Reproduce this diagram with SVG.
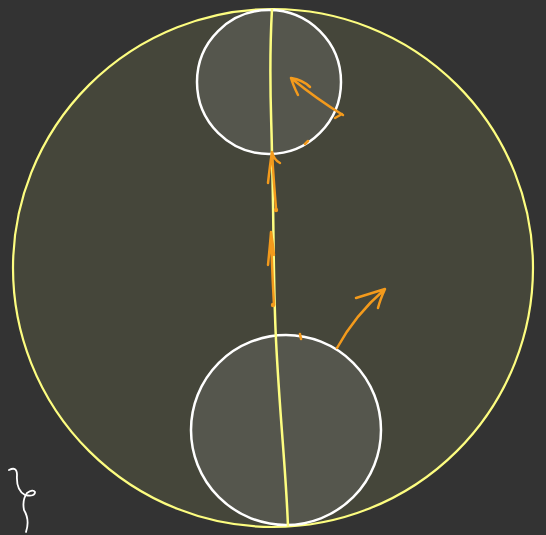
<svg xmlns="http://www.w3.org/2000/svg" width="546" height="535" viewBox="0 0 546 535">
<style>
.o{fill:none;stroke:#f39a1c;stroke-width:2.5;stroke-linecap:round;stroke-linejoin:round}
.w{fill:#55564d;stroke:#ffffff;stroke-width:2.5}
</style>
<rect width="546" height="535" fill="#333333"/>
<g id="outer"><ellipse cx="273" cy="268" rx="260" ry="259" fill="#45463a" stroke="#fdfd80" stroke-width="2.2"/></g>
<g id="top"><circle cx="269" cy="82" r="72" class="w"/></g>
<g id="bottom"><circle cx="286" cy="430" r="95" class="w"/></g>
<g id="connectors">
<path d="M272 9 C268 80 272 120 272 160 C274 220 273 280 276 340 C280 420 286 470 288 527" fill="none" stroke="#fdfd80" stroke-width="2.5"/>
<path class="o" d="M274 305 Q272 270 271 233 M268 265 Q270 245 271 232 Q273 245 274 255"/>
<path class="o" d="M276 208 Q274 185 272 153 M268 183 Q270 165 272 152 Q274 160 280 163"/>
<circle cx="276" cy="210" r="2.2" fill="#f39a1c"/>
<circle cx="273" cy="305" r="2.2" fill="#f39a1c"/>
<path class="o" d="M343 115 Q318 100 291 78 M298 95 Q293 85 291 78 Q303 80 310 87 M335 118 L342 114"/>
<path class="o" d="M337 348 Q355 315 385 289 M356 298 Q372 293 385 289 Q380 300 378 308"/>
<path class="o" d="M300 334 L301 339 M305 144 L308 141"/>
</g>
<path d="M9 470 Q17 466 17 475 Q16 490 25 495 Q35 497 35 492 Q33 489 27 493 Q22 500 24 510 Q30 520 26 532" fill="none" stroke="#ffffff" stroke-width="1.8" stroke-linecap="round"/>
</svg>
